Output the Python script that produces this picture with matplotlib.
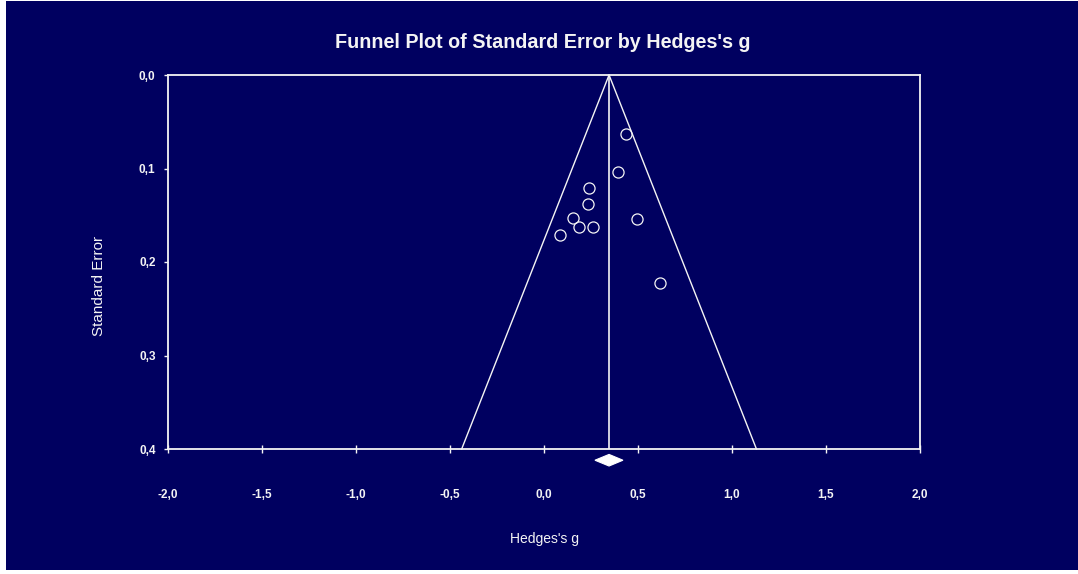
import matplotlib.pyplot as plt
import numpy as np
from matplotlib.patches import Polygon, Rectangle

# study effects
hedges_g = [0.435, 0.394, 0.239, 0.236, 0.156, 0.493, 0.185, 0.261, 0.087, 0.619]
std_err = [0.063, 0.104, 0.121, 0.138, 0.153, 0.154, 0.163, 0.163, 0.171, 0.222]

# summary estimate and its confidence interval
summary_g = 0.346
ci_low, ci_high = 0.271, 0.420

x_ticks = [-2.0, -1.5, -1.0, -0.5, 0.0, 0.5, 1.0, 1.5, 2.0]
x_tick_labels = ["-2,0", "-1,5", "-1,0", "-0,5", "0,0", "0,5", "1,0", "1,5", "2,0"]
y_ticks = [0.0, 0.1, 0.2, 0.3, 0.4]
y_tick_labels = ["0,0", "0,1", "0,2", "0,3", "0,4"]
se_max = 0.4

NAVY = "#000060"
FG = "#f4f4f4"

plt.rcParams["font.family"] = ["Liberation Sans", "DejaVu Sans"]

fig = plt.figure(figsize=(10.78, 5.74), dpi=100, facecolor="white")
fig.patches.append(Rectangle((6 / 1078, 4 / 574), 1 - 6 / 1078, 1 - 5 / 574,
                             transform=fig.transFigure, facecolor=NAVY,
                             edgecolor="none", zorder=-1))

ax = fig.add_axes([168 / 1078, 1 - 449 / 574, 752 / 1078, 374 / 574])
ax.set_facecolor(NAVY)

# funnel (95% pseudo-confidence limits)
se_line = np.array([0.0, se_max])
ax.plot(summary_g - 1.96 * se_line, se_line, color=FG, lw=1.0, clip_on=False)
ax.plot(summary_g + 1.96 * se_line, se_line, color=FG, lw=1.0, clip_on=False)
ax.plot([summary_g, summary_g], [0, se_max], color=FG, lw=1.2)

ax.plot(hedges_g, std_err, "o", ms=8, mfc="none", mec=FG, mew=0.9)

# summary diamond below the axis
d_mid = 0.412
d_half = 0.0062
ax.add_patch(Polygon([(ci_low, d_mid), (summary_g, d_mid - d_half),
                      (ci_high, d_mid), (summary_g, d_mid + d_half)],
                     closed=True, facecolor="white", edgecolor="white",
                     lw=0.8, clip_on=False))

ax.set_xlim(-2.0, 2.0)
ax.set_ylim(se_max, 0.0)
ax.set_xticks(x_ticks)
ax.set_xticklabels(x_tick_labels)
ax.set_yticks(y_ticks)
ax.set_yticklabels(y_tick_labels)

for s in ax.spines.values():
    s.set_color(FG)
    s.set_linewidth(1.3)

ax.tick_params(axis="x", direction="inout", length=6, width=1, colors=FG,
               pad=26, labelsize=8.5)
ax.tick_params(axis="y", direction="out", length=3, width=1, colors=FG,
               pad=6, labelsize=8.5)
for lab in ax.get_xticklabels() + ax.get_yticklabels():
    lab.set_fontweight("bold")

ax.set_xlabel("Hedges's g", color=FG, fontsize=10)
ax.xaxis.set_label_coords(0.5, -(532 - 449) / 374)
ax.set_ylabel("Standard Error", color=FG, fontsize=11)
ax.yaxis.set_label_coords(-(168 - 106) / 752, 0.5 - 24 / 374)

fig.text(543 / 1078, 1 - 42 / 574, "Funnel Plot of Standard Error by Hedges's g",
         ha="center", va="center", color=FG, fontsize=14.2, fontweight="bold")

fig.savefig("out.png", dpi=100, facecolor=fig.get_facecolor())
